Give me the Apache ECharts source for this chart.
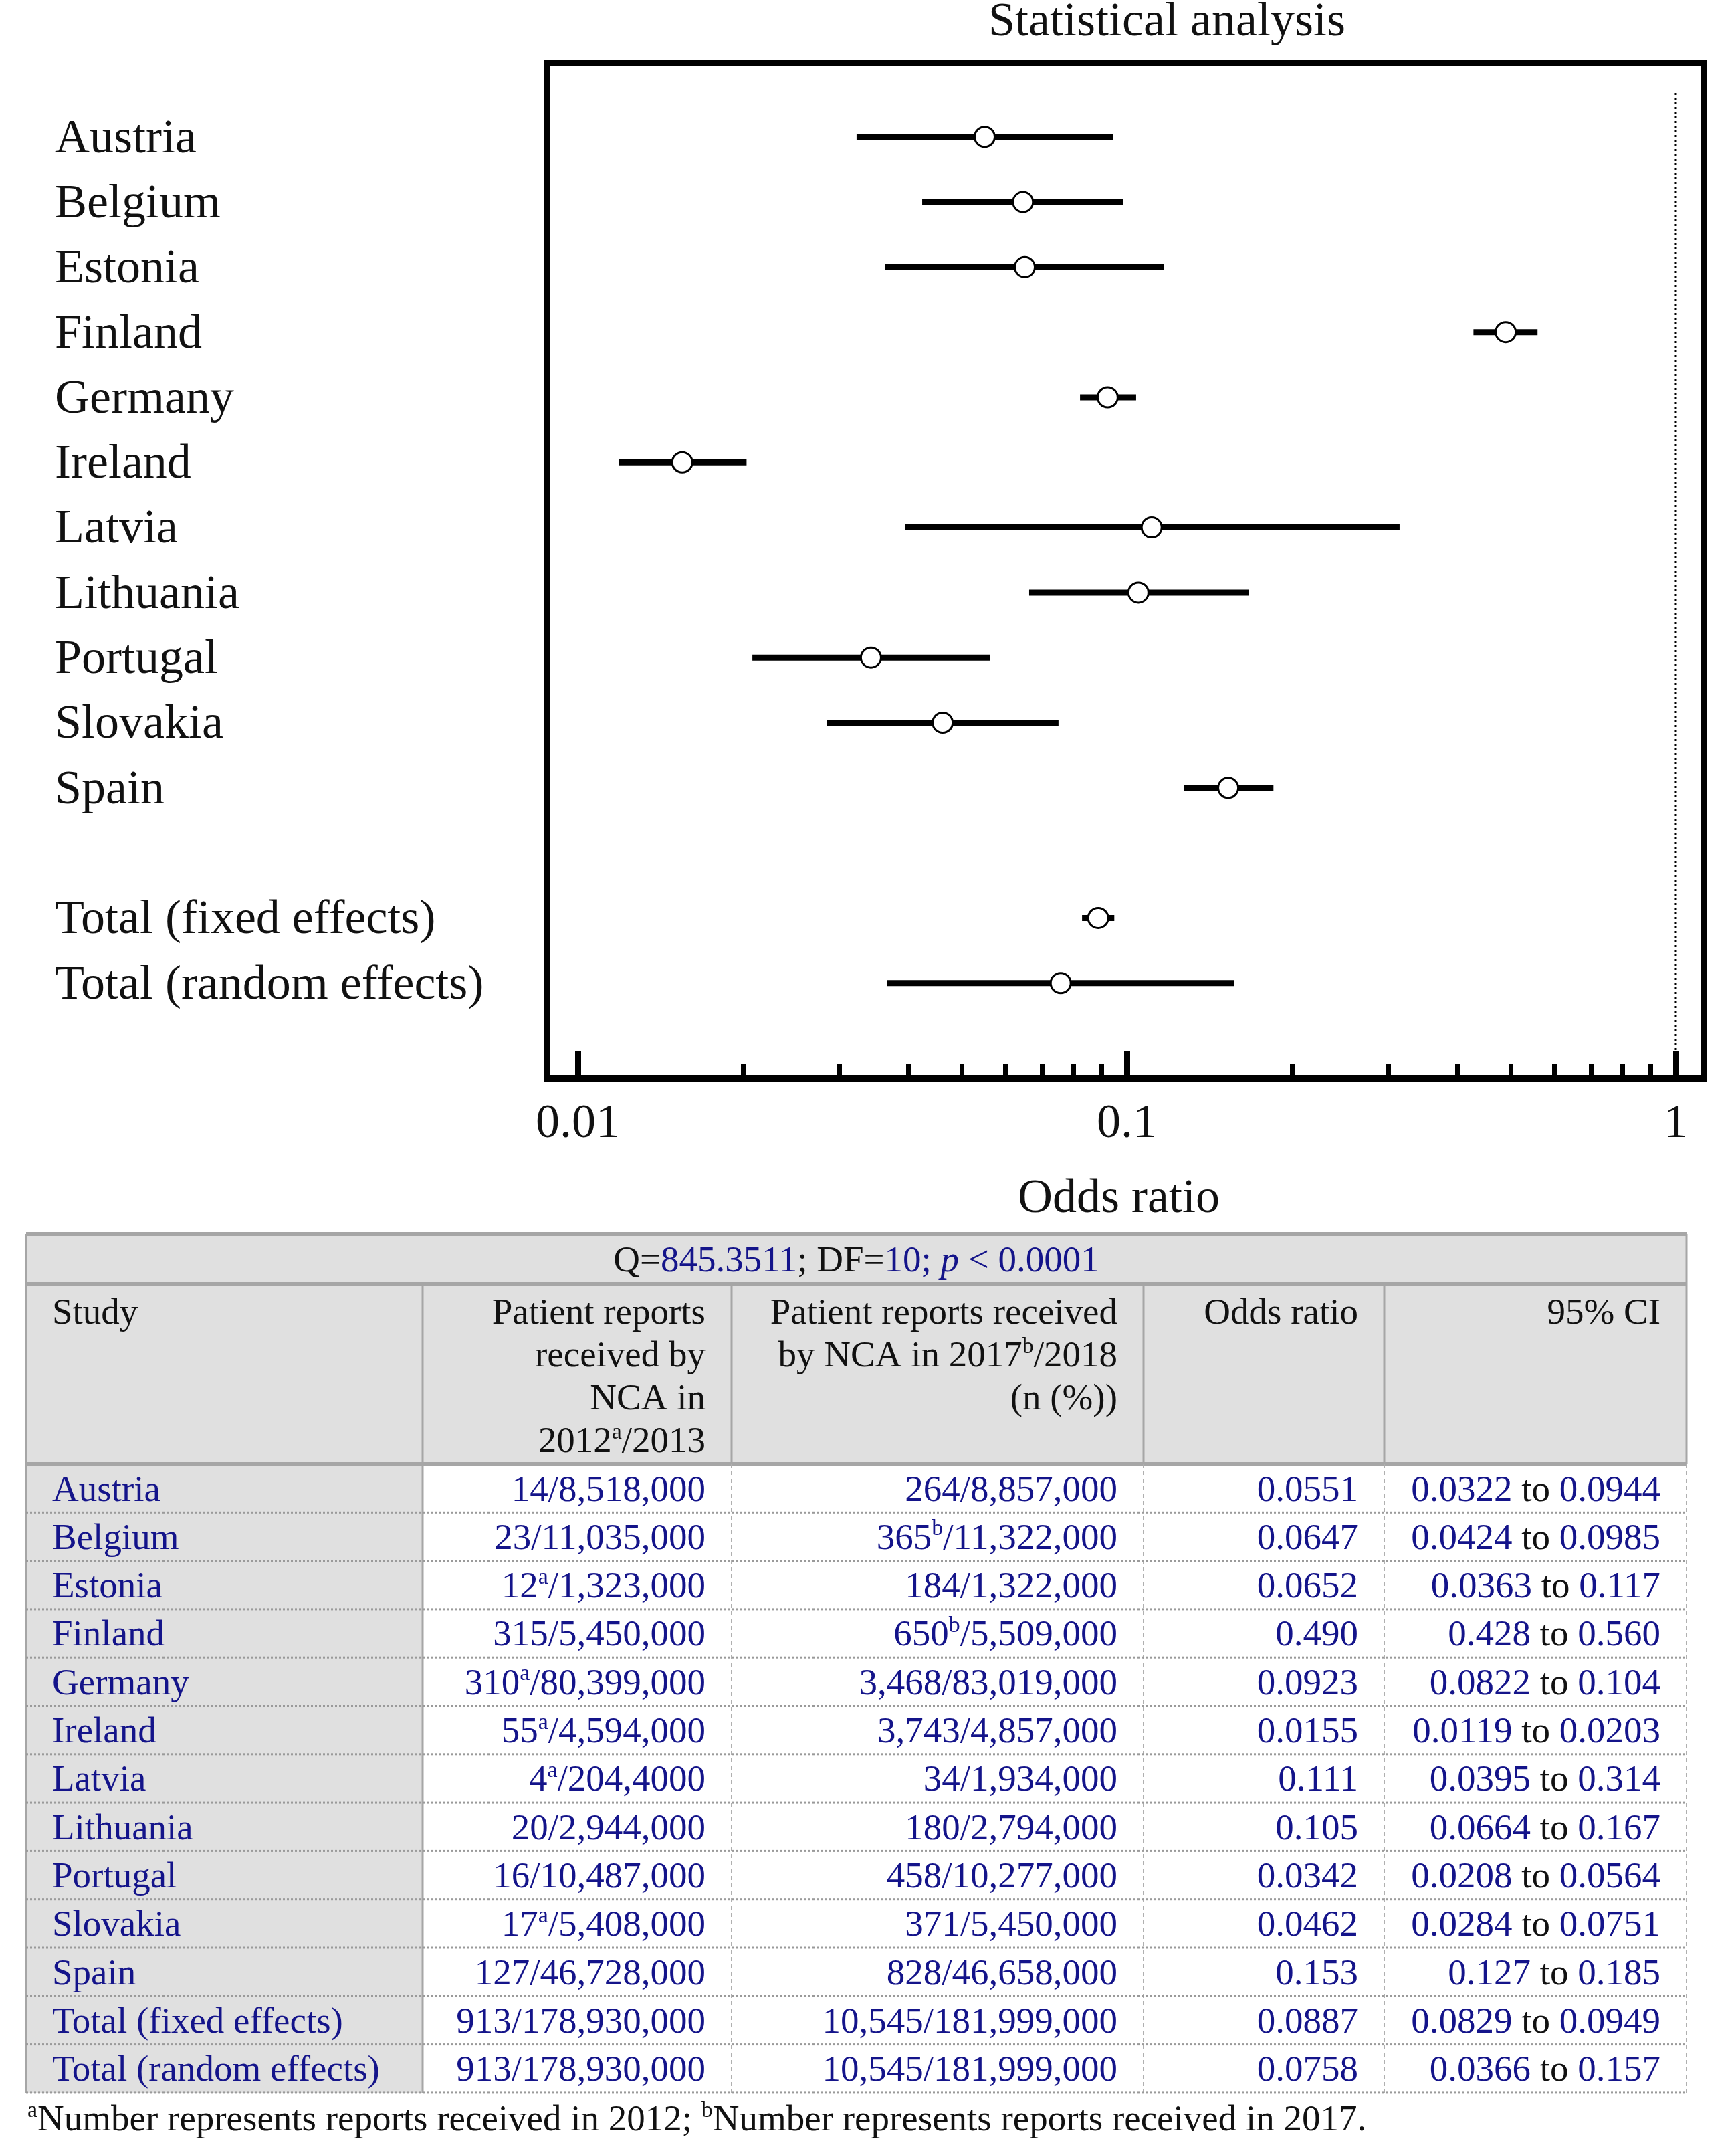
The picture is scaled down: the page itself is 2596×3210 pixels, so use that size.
<!DOCTYPE html>
<html><head><meta charset="utf-8">
<script src="https://cdn.jsdelivr.net/npm/echarts@6/dist/echarts.min.js"></script>
<style>html,body{margin:0;padding:0;background:#fff}#c{width:2596px;height:3210px}</style>
</head><body><div id="c"></div>
<script>
// ---------------- data ----------------
const studies = ['Austria','Belgium','Estonia','Finland','Germany','Ireland','Latvia','Lithuania','Portugal','Slovakia','Spain','Total (fixed effects)','Total (random effects)'];
const oddsRatio = [0.0551,0.0647,0.0652,0.490,0.0923,0.0155,0.111,0.105,0.0342,0.0462,0.153,0.0887,0.0758];
const ciLow  = [0.0322,0.0424,0.0363,0.428,0.0822,0.0119,0.0395,0.0664,0.0208,0.0284,0.127,0.0829,0.0366];
const ciHigh = [0.0944,0.0985,0.117,0.560,0.104,0.0203,0.314,0.167,0.0564,0.0751,0.185,0.0949,0.157];
const reports2013 = ['14/8,518,000','23/11,035,000','12^a/1,323,000','315/5,450,000','310^a/80,399,000','55^a/4,594,000','4^a/204,4000','20/2,944,000','16/10,487,000','17^a/5,408,000','127/46,728,000','913/178,930,000','913/178,930,000'];
const reports2018 = ['264/8,857,000','365^b/11,322,000','184/1,322,000','650^b/5,509,000','3,468/83,019,000','3,743/4,857,000','34/1,934,000','180/2,794,000','458/10,277,000','371/5,450,000','828/46,658,000','10,545/181,999,000','10,545/181,999,000'];
const xTickValues = [0.01, 0.1, 1];
const xTickLabels = ['0.01', '0.1', '1'];
const xMinorTicks = [0.02,0.03,0.04,0.05,0.06,0.07,0.08,0.09,0.2,0.3,0.4,0.5,0.6,0.7,0.8,0.9];
const referenceValue = 1;
const qStat = '845.3511';
const dfStat = '10';
const pStat = '< 0.0001';
const headers = ['Study', 'Patient reports\nreceived by\nNCA in\n2012^a/2013', 'Patient reports received\nby NCA in 2017^b/2018\n(n (%))', 'Odds ratio', '95% CI'];
const footnote = '^aNumber represents reports received in 2012; ^bNumber represents reports received in 2017.';
const titleText = 'Statistical analysis';
const xAxisName = 'Odds ratio';

// ---------------- helpers ----------------
const FONT = 'Liberation Serif';
const BLUE = '#14148a';
const BLACK = '#111';
const rowOf = i => (i < 11 ? i : i + 1);
const rowPositions = studies.map((s, i) => rowOf(i));
const L = Math.log10;
const fmt = v => v.toPrecision(3);

function supRich(str, baseStyle) {
  return str.split('\n').map(line => line.replace(/\^([ab])/g, '}{' + (baseStyle === 'n' ? 'sb' : 'sk') + '|$1}{' + baseStyle + '|'))
    .map(line => '{' + baseStyle + '|' + line + '}').join('\n').replace(/\{[a-z]+\|\}/g, '');
}
const rich = {
  n:  {fontSize: 55, fontFamily: FONT, fill: BLUE, lineHeight: 64},
  k:  {fontSize: 55, fontFamily: FONT, fill: BLACK, lineHeight: 64},
  i:  {fontSize: 55, fontFamily: FONT, fill: BLUE, lineHeight: 64, fontStyle: 'italic'},
  sb: {fontSize: 34, fontFamily: FONT, fill: BLUE, verticalAlign: 'top'},
  sk: {fontSize: 34, fontFamily: FONT, fill: BLACK, verticalAlign: 'top'}
};

// ---------------- table graphics ----------------
const T = {cols: [39, 632, 1094, 1710, 2070, 2522], top: 1845, qBottom: 1920, headBottom: 2189, rowH: 72.3, pad: 39, dy: 4};
const nRows = studies.length;
const tBottom = T.headBottom + nRows * T.rowH;
const G = [];
const GRAY = '#a6a6a6';
G.push({type: 'rect', shape: {x: T.cols[0], y: T.top, width: T.cols[5] - T.cols[0], height: T.headBottom - T.top}, style: {fill: '#e0e0e0'}});
G.push({type: 'rect', shape: {x: T.cols[0], y: T.headBottom, width: T.cols[1] - T.cols[0], height: tBottom - T.headBottom}, style: {fill: '#e0e0e0'}});
[T.top, T.qBottom, T.headBottom].forEach(y => G.push({type: 'line', shape: {x1: T.cols[0], y1: y, x2: T.cols[5], y2: y}, style: {stroke: GRAY, lineWidth: 6}}));
G.push({type: 'line', shape: {x1: T.cols[0], y1: T.top, x2: T.cols[0], y2: tBottom}, style: {stroke: GRAY, lineWidth: 3}});
G.push({type: 'line', shape: {x1: T.cols[5], y1: T.top, x2: T.cols[5], y2: T.headBottom}, style: {stroke: GRAY, lineWidth: 3}});
for (let c = 1; c < 5; c++) {
  G.push({type: 'line', shape: {x1: T.cols[c], y1: T.qBottom, x2: T.cols[c], y2: T.headBottom}, style: {stroke: GRAY, lineWidth: 3}});
}
G.push({type: 'line', shape: {x1: T.cols[1], y1: T.headBottom, x2: T.cols[1], y2: tBottom}, style: {stroke: GRAY, lineWidth: 3}});
for (let c = 2; c < 6; c++) {
  G.push({type: 'line', shape: {x1: T.cols[c], y1: T.headBottom, x2: T.cols[c], y2: tBottom}, style: {stroke: '#b0b0b0', lineWidth: 2, lineDash: [6, 5]}});
}
for (let r = 1; r <= nRows; r++) {
  const y = T.headBottom + r * T.rowH;
  G.push({type: 'line', shape: {x1: T.cols[0], y1: y, x2: T.cols[5], y2: y}, style: {stroke: '#9a9a9a', lineWidth: 3, lineDash: [3, 3]}});
}
G.push({type: 'text', x: (T.cols[0] + T.cols[5]) / 2, y: (T.top + T.qBottom) / 2 + T.dy, style: {
  text: '{k|Q=}{n|' + qStat + '}{k|; DF=}{n|' + dfStat + '; }{i|p}{n| ' + pStat + '}',
  align: 'center', verticalAlign: 'middle', rich: rich}});
headers.forEach((h, c) => {
  const left = c === 0;
  G.push({type: 'text', x: left ? T.cols[0] + T.pad : T.cols[c + 1] - T.pad, y: T.qBottom + 9 + T.dy, style: {
    text: supRich(h, 'k'), align: left ? 'left' : 'right', verticalAlign: 'top', rich: rich}});
});
studies.forEach((s, i) => {
  const y = T.headBottom + (i + 0.5) * T.rowH + T.dy;
  const cells = [
    supRich(s, 'n'),
    supRich(reports2013[i], 'n'),
    supRich(reports2018[i], 'n'),
    '{n|' + fmt(oddsRatio[i]) + '}',
    '{n|' + fmt(ciLow[i]) + '}{k| to }{n|' + fmt(ciHigh[i]) + '}'
  ];
  cells.forEach((t, c) => {
    const left = c === 0;
    G.push({type: 'text', x: left ? T.cols[0] + T.pad : T.cols[c + 1] - T.pad, y: y, style: {
      text: t, align: left ? 'left' : 'right', verticalAlign: 'middle', rich: rich}});
  });
});
G.push({type: 'text', x: 41, y: 3171, style: {text: supRich(footnote, 'k'), align: 'left', verticalAlign: 'middle', rich: rich}});
G.push({type: 'text', x: 1745, y: 34, style: {text: titleText, font: '72px "Liberation Serif"', fill: BLACK, align: 'center', verticalAlign: 'middle'}});
G.push({type: 'text', x: 1673, y: 1793, style: {text: xAxisName, font: '72px "Liberation Serif"', fill: BLACK, align: 'center', verticalAlign: 'middle'}});

// ---------------- chart ----------------
const X_MIN = -2.056, X_MAX = 0.0512;
const Y_MIN = -1.138, Y_MAX = 14.462;
const chart = echarts.init(document.getElementById('c'), null, {width: 2596, height: 3210});
const option = {
  animation: false,
  backgroundColor: '#fff',
  grid: {left: 818, top: 94, width: 1730, height: 1518, show: true, borderColor: '#000', borderWidth: 10, backgroundColor: 'transparent', containLabel: false, outerBoundsMode: 'none'},
  xAxis: [
    {type: 'value', min: X_MIN, max: X_MAX, position: 'bottom',
     axisLine: {show: false, onZero: false}, splitLine: {show: false},
     axisTick: {show: true, inside: true, length: 40, lineStyle: {color: '#000', width: 9}, customValues: xTickValues.map(L)},
     axisLabel: {show: true, margin: 33, fontSize: 72, fontFamily: FONT, color: BLACK, customValues: xTickValues.map(L),
       formatter: v => { let b = 0; xTickValues.forEach((t, k) => { if (Math.abs(L(t) - v) < Math.abs(L(xTickValues[b]) - v)) b = k; }); return xTickLabels[b]; }}},
    {type: 'value', min: X_MIN, max: X_MAX, position: 'bottom',
     axisLine: {show: false, onZero: false}, splitLine: {show: false}, axisLabel: {show: false},
     axisTick: {show: true, inside: true, length: 21, lineStyle: {color: '#000', width: 7}, customValues: xMinorTicks.map(L)}}
  ],
  yAxis: {type: 'value', inverse: true, min: Y_MIN, max: Y_MAX,
    axisLine: {show: false, onZero: false}, axisTick: {show: false}, splitLine: {show: false},
    axisLabel: {show: true, align: 'left', margin: 736, fontSize: 72, fontFamily: FONT, color: BLACK, customValues: rowPositions,
      rich: {r: {fontSize: 72, fontFamily: FONT, color: BLACK, padding: [8, 0, 0, 0]}},
      formatter: v => { const k = rowPositions.indexOf(Math.round(v)); return k >= 0 ? '{r|' + studies[k] + '}' : ''; }}},
  series: [
    {type: 'line', xAxisIndex: 0, data: [[L(referenceValue), -0.675], [L(referenceValue), Y_MAX]], symbol: 'none', silent: true,
     lineStyle: {color: '#000', width: 3, type: [3, 4]}, z: 1},
    {type: 'custom', xAxisIndex: 0, data: studies.map((s, i) => [L(ciLow[i]), L(ciHigh[i]), rowOf(i)]),
     encode: {x: [0, 1], y: 2}, z: 2,
     renderItem: (params, api) => {
       const p1 = api.coord([api.value(0), api.value(2)]);
       const p2 = api.coord([api.value(1), api.value(2)]);
       return {type: 'line', shape: {x1: p1[0], y1: p1[1], x2: p2[0], y2: p2[1]}, style: {stroke: '#000', lineWidth: 9}};
     }},
    {type: 'scatter', xAxisIndex: 0, data: studies.map((s, i) => [L(oddsRatio[i]), rowOf(i)]), symbol: 'circle', symbolSize: 30, z: 3,
     itemStyle: {color: '#fff', borderColor: '#000', borderWidth: 3, opacity: 1}}
  ],
  graphic: G
};
chart.setOption(option);
</script>
</body></html>
